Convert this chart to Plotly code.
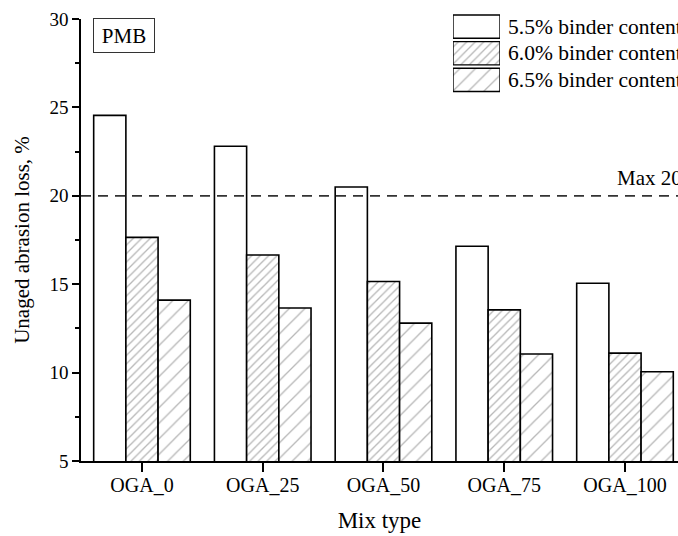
import plotly.graph_objects as go

# Unaged abrasion loss of PMB mixes by OGA replacement level
mix_types = ["OGA_0", "OGA_25", "OGA_50", "OGA_75", "OGA_100"]
series_names = ["5.5% binder content", "6.0% binder content", "6.5% binder content"]
loss_55 = [24.55, 22.8, 20.5, 17.15, 15.05]
loss_60 = [17.65, 16.65, 15.15, 13.55, 11.1]
loss_65 = [14.1, 13.65, 12.8, 11.05, 10.05]
max_limit = 20

FONT = "Liberation Serif"
pattern_shapes = ["", "/", "/"]
pattern_sizes = [8, 6, 11]
pattern_solidity = [0.2, 0.22, 0.12]

fig = go.Figure()

for name, vals, shp, sz, sol in zip(series_names, [loss_55, loss_60, loss_65],
                                    pattern_shapes, pattern_sizes, pattern_solidity):
    fig.add_trace(go.Bar(
        x=mix_types, y=vals, name=name, showlegend=False,
        marker=dict(color="white", line=dict(color="black", width=1.6),
                    pattern=dict(shape=shp, size=sz, solidity=sol,
                                 fgcolor="#6f6f6f", bgcolor="white")),
        xaxis="x", yaxis="y",
    ))

# Legend swatches drawn as bars on a small auxiliary axis pair
fig.add_trace(go.Bar(
    x=[1, 1, 1], y=[2.5, 1.5, 0.5], base=0, width=0.87, orientation="h",
    showlegend=False, hoverinfo="skip",
    marker=dict(color="white", line=dict(color="black", width=1.4),
                pattern=dict(shape=pattern_shapes, size=pattern_sizes,
                             solidity=pattern_solidity,
                             fgcolor="#6f6f6f", bgcolor="white")),
    xaxis="x2", yaxis="y2",
))

annotations = []
for yv, name in zip([2.5, 1.5, 0.5], series_names):
    annotations.append(dict(
        text=name, xref="paper", yref="y2", x=(506 - 81) / 597, y=yv,
        xanchor="left", yanchor="middle", showarrow=False,
        font=dict(family=FONT, size=21.5, color="black"),
    ))

annotations.append(dict(
    text="PMB", xref="paper", yref="paper", x=(123.5 - 81) / 597, y=(461 - 36) / 451,
    xanchor="center", yanchor="middle", showarrow=False,
    font=dict(family=FONT, size=21, color="black"),
    bordercolor="#333", borderwidth=1, borderpad=1, width=58, height=31,
))

annotations.append(dict(
    text="Max 20%", xref="x", yref="y", x=3.917, y=max_limit,
    xanchor="left", yanchor="bottom", yshift=4, showarrow=False,
    font=dict(family=FONT, size=21, color="black"),
))

fig.add_shape(type="line", xref="paper", yref="y", x0=0, x1=1, y0=max_limit, y1=max_limit,
              line=dict(color="#333", width=1.8, dash="10px,7px"))

fig.update_layout(
    width=678, height=536,
    margin=dict(l=81, r=0, t=10, b=75),
    paper_bgcolor="white", plot_bgcolor="white",
    barmode="group", bargap=0.2, bargroupgap=0,
    font=dict(family=FONT, color="black"),
    annotations=annotations,
    xaxis=dict(
        range=[-0.505, 4.439], showline=True, linecolor="black", linewidth=1.6,
        ticks="outside", ticklen=9, tickwidth=1.6, tickcolor="black",
        tickfont=dict(family=FONT, size=20), showgrid=False, zeroline=False,
        ticklabelstandoff=-4,
        title=dict(text="Mix type", font=dict(family=FONT, size=23), standoff=17),
    ),
    yaxis=dict(
        domain=[0, (461 - 19) / 451], range=[5, 30], dtick=5, tick0=5,
        showline=True, linecolor="black", linewidth=1.6,
        ticks="outside", ticklen=7, tickwidth=1.6, tickcolor="black",
        minor=dict(ticks="outside", ticklen=4, dtick=2.5, tick0=5, tickcolor="black", tickwidth=1.6),
        tickfont=dict(family=FONT, size=19), showgrid=False, zeroline=False,
        title=dict(text="Unaged abrasion loss, %", font=dict(family=FONT, size=21), standoff=14),
        automargin=False,
    ),
    xaxis2=dict(domain=[(453 - 81) / 597, (500 - 81) / 597], range=[0, 1],
                anchor="y2", visible=False, fixedrange=True),
    yaxis2=dict(domain=[(461 - 93.25) / 451, (461 - 13.25) / 451], range=[0, 3],
                anchor="x2", visible=False, fixedrange=True),
)

fig.write_html("out.html")
